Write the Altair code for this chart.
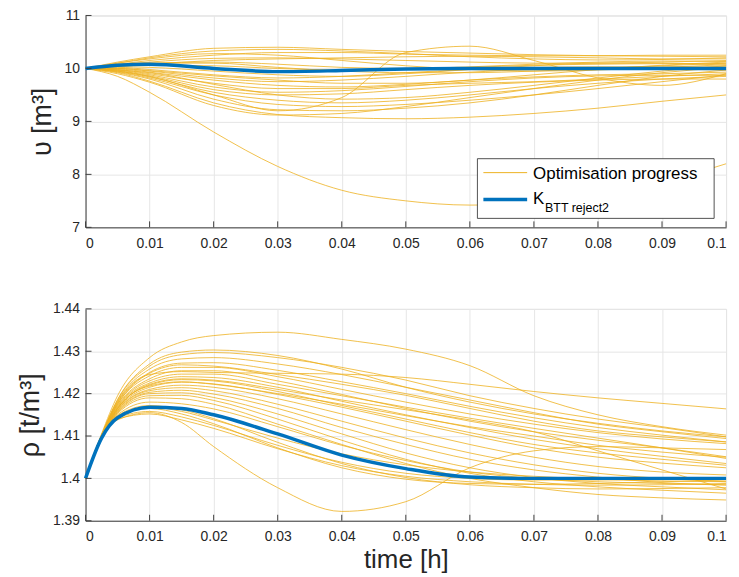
import altair as alt
import pandas as pd

# ---------------- data ----------------
T_V = [0, 0.005, 0.01, 0.02, 0.03, 0.04, 0.05, 0.06, 0.07, 0.08, 0.09, 0.1]
V_BEST = [10.0, 10.06, 10.08, 10.0, 9.94, 9.96, 9.99, 10.0, 10.0, 10.0, 10.0, 10.0]
v_run01 = [10, 10.12, 10.22, 10.38, 10.40, 10.36, 10.32, 10.29, 10.26, 10.24, 10.23, 10.22]
v_run02 = [10, 10.10, 10.20, 10.33, 10.36, 10.33, 10.28, 10.22, 10.18, 10.16, 10.17, 10.20]
v_run03 = [10, 10.08, 10.15, 10.25, 10.30, 10.30, 10.27, 10.25, 10.24, 10.24, 10.25, 10.25]
v_run04 = [10, 10.07, 10.12, 10.19, 10.20, 10.18, 10.15, 10.12, 10.10, 10.10, 10.12, 10.15]
v_run05 = [10, 10.05, 10.10, 10.12, 10.08, 10.02, 10.00, 10.03, 10.08, 10.12, 10.14, 10.13]
v_run06 = [10, 10.04, 10.06, 10.05, 10.00, 9.97, 9.98, 10.02, 10.06, 10.08, 10.09, 10.09]
v_run07 = [10, 10.03, 10.02, 9.95, 9.88, 9.85, 9.90, 9.98, 10.05, 10.10, 10.10, 10.06]
v_run08 = [10, 10.02, 9.98, 9.88, 9.82, 9.85, 9.92, 9.98, 10.02, 10.03, 10.03, 10.03]
v_run09 = [10, 10.00, 9.95, 9.82, 9.75, 9.78, 9.85, 9.93, 9.98, 10.00, 9.99, 9.97]
v_run10 = [10, 9.99, 9.93, 9.78, 9.68, 9.65, 9.70, 9.78, 9.84, 9.88, 9.90, 9.93]
v_run11 = [10, 9.98, 9.90, 9.72, 9.62, 9.62, 9.68, 9.72, 9.75, 9.80, 9.85, 9.90]
v_run12 = [10, 9.97, 9.88, 9.65, 9.55, 9.58, 9.66, 9.75, 9.82, 9.86, 9.87, 9.87]
v_run13 = [10, 9.96, 9.86, 9.60, 9.50, 9.52, 9.60, 9.68, 9.74, 9.78, 9.80, 9.80]
v_run14 = [10, 9.95, 9.84, 9.55, 9.40, 9.35, 9.40, 9.50, 9.62, 9.72, 9.80, 9.85]
v_run15 = [10, 9.94, 9.82, 9.50, 9.32, 9.28, 9.32, 9.40, 9.50, 9.62, 9.75, 9.88]
v_run16 = [10, 9.93, 9.80, 9.42, 9.22, 9.20, 9.25, 9.35, 9.50, 9.68, 9.85, 9.97]
v_run17 = [10, 9.92, 9.76, 9.35, 9.13, 9.07, 9.05, 9.08, 9.15, 9.25, 9.38, 9.50]
v_run18 = [10, 9.90, 9.74, 9.30, 9.12, 9.15, 9.28, 9.45, 9.62, 9.78, 9.92, 10.02]
v_run19 = [10, 9.95, 9.85, 9.50, 9.20, 9.45, 10.30, 10.42, 10.15, 9.82, 9.68, 9.90]
v_run20 = [10, 9.85, 9.55, 8.80, 8.15, 7.70, 7.50, 7.42, 7.45, 7.60, 7.85, 8.20]
v_run21 = [10, 10.10, 10.18, 10.28, 10.25, 10.15, 10.05, 9.98, 9.95, 9.97, 10.02, 10.07]
v_run22 = [10, 10.06, 10.10, 10.10, 10.02, 9.95, 9.92, 9.92, 9.95, 10.00, 10.05, 10.10]
v_run23 = [10, 10.00, 9.96, 9.86, 9.78, 9.72, 9.72, 9.78, 9.88, 9.98, 10.06, 10.12]
v_run24 = [10, 9.97, 9.92, 9.70, 9.50, 9.42, 9.45, 9.55, 9.68, 9.82, 9.95, 10.05]
v_run25 = [10, 10.04, 10.08, 10.15, 10.18, 10.20, 10.22, 10.23, 10.22, 10.20, 10.18, 10.18]

T_R = [0, 0.0025, 0.005, 0.01, 0.015, 0.02, 0.03, 0.04, 0.05, 0.06, 0.07, 0.08, 0.09, 0.1]
R_BEST = [1.4, 1.4095, 1.4143, 1.4168, 1.4165, 1.415, 1.4105, 1.4055, 1.4023, 1.4003, 1.4, 1.4, 1.4, 1.4]
r_run01 = [1.4, 1.4105, 1.4195, 1.4285, 1.4322, 1.4337, 1.4345, 1.4328, 1.4305, 1.4266, 1.4195, 1.415, 1.4122, 1.4102]
r_run02 = [1.4, 1.4102, 1.418, 1.4245, 1.4252, 1.425, 1.4248, 1.4246, 1.4238, 1.4222, 1.4205, 1.419, 1.4177, 1.4164]
r_run03 = [1.4, 1.4102, 1.4185, 1.4265, 1.4292, 1.4297, 1.4285, 1.4262, 1.4232, 1.4195, 1.4165, 1.414, 1.412, 1.4098]
r_run04 = [1.4, 1.4102, 1.4182, 1.4258, 1.4282, 1.4285, 1.427, 1.4245, 1.4215, 1.4185, 1.4155, 1.4128, 1.411, 1.4094]
r_run05 = [1.4, 1.4101, 1.4178, 1.425, 1.4272, 1.4273, 1.4255, 1.4228, 1.42, 1.417, 1.4143, 1.412, 1.4102, 1.4086]
r_run06 = [1.4, 1.4101, 1.4175, 1.4242, 1.4262, 1.4262, 1.424, 1.421, 1.418, 1.4152, 1.4128, 1.4108, 1.4093, 1.4082]
r_run07 = [1.4, 1.4101, 1.4172, 1.4235, 1.4254, 1.4254, 1.423, 1.4198, 1.4165, 1.4135, 1.411, 1.409, 1.4072, 1.4051]
r_run08 = [1.4, 1.4101, 1.417, 1.423, 1.4246, 1.4246, 1.4222, 1.4195, 1.4168, 1.4142, 1.4118, 1.4095, 1.4072, 1.4047]
r_run09 = [1.4, 1.41, 1.4168, 1.4225, 1.424, 1.4238, 1.4215, 1.4182, 1.415, 1.412, 1.4092, 1.407, 1.4052, 1.4035]
r_run10 = [1.4, 1.41, 1.4165, 1.422, 1.4233, 1.423, 1.4205, 1.4172, 1.414, 1.4108, 1.408, 1.406, 1.4045, 1.4031]
r_run11 = [1.4, 1.41, 1.4163, 1.4215, 1.4227, 1.4223, 1.4198, 1.4168, 1.4135, 1.4102, 1.4072, 1.405, 1.4036, 1.4025]
r_run12 = [1.4, 1.41, 1.4161, 1.421, 1.422, 1.4215, 1.4188, 1.4152, 1.4115, 1.408, 1.405, 1.4028, 1.4015, 1.4008]
r_run13 = [1.4, 1.41, 1.416, 1.4207, 1.4214, 1.4207, 1.4175, 1.4135, 1.4095, 1.406, 1.4032, 1.4012, 1.4, 1.3992]
r_run14 = [1.4, 1.41, 1.4158, 1.4203, 1.4208, 1.4199, 1.4165, 1.412, 1.408, 1.4045, 1.402, 1.4003, 1.399, 1.3984]
r_run15 = [1.4, 1.41, 1.4156, 1.42, 1.4202, 1.4191, 1.4152, 1.4105, 1.406, 1.4025, 1.4002, 1.3988, 1.398, 1.3973]
r_run16 = [1.4, 1.41, 1.4155, 1.4195, 1.4196, 1.4184, 1.414, 1.409, 1.4045, 1.4012, 1.3992, 1.398, 1.3972, 1.3965]
r_run17 = [1.4, 1.41, 1.4153, 1.419, 1.4188, 1.4175, 1.4128, 1.408, 1.4035, 1.4, 1.3978, 1.3962, 1.3954, 1.3949]
r_run18 = [1.4, 1.4099, 1.415, 1.418, 1.4176, 1.4164, 1.4122, 1.4078, 1.4042, 1.4015, 1.4, 1.3992, 1.3988, 1.3985]
r_run19 = [1.4, 1.4099, 1.4148, 1.4172, 1.4162, 1.4141, 1.4085, 1.4035, 1.4002, 1.3985, 1.3978, 1.3975, 1.3976, 1.3978]
r_run20 = [1.4, 1.4099, 1.4145, 1.4165, 1.4152, 1.4129, 1.4072, 1.4025, 1.3998, 1.3988, 1.3986, 1.3988, 1.3992, 1.3996]
r_run21 = [1.4, 1.4098, 1.4142, 1.4158, 1.4145, 1.4125, 1.4078, 1.4038, 1.4012, 1.4, 1.3996, 1.3996, 1.3998, 1.4]
r_run22 = [1.4, 1.4098, 1.414, 1.4152, 1.4138, 1.4118, 1.407, 1.403, 1.4005, 1.3992, 1.3986, 1.3984, 1.3985, 1.3988]
r_run23 = [1.4, 1.4099, 1.4138, 1.4155, 1.4132, 1.4075, 1.3978, 1.3922, 1.3945, 1.4025, 1.4065, 1.4075, 1.4072, 1.4068]
r_run24 = [1.4, 1.41, 1.4165, 1.4222, 1.4235, 1.4232, 1.421, 1.4185, 1.4162, 1.4138, 1.411, 1.4065, 1.402, 1.3975]
r_run25 = [1.4, 1.4101, 1.4175, 1.4248, 1.4268, 1.4265, 1.4245, 1.4222, 1.4196, 1.4165, 1.4135, 1.4112, 1.4098, 1.4086]
r_run26 = [1.4, 1.4102, 1.4186, 1.427, 1.4298, 1.4303, 1.429, 1.4258, 1.4215, 1.418, 1.4152, 1.413, 1.4112, 1.4098]
r_run27 = [1.4, 1.41, 1.4166, 1.4218, 1.4228, 1.4222, 1.42, 1.4175, 1.4148, 1.4122, 1.41, 1.4078, 1.4062, 1.405]
r_run28 = [1.4, 1.4099, 1.4147, 1.4168, 1.4158, 1.4138, 1.4095, 1.4058, 1.4032, 1.4015, 1.4005, 1.3998, 1.3994, 1.3992]

X_TICKS = [0, 0.01, 0.02, 0.03, 0.04, 0.05, 0.06, 0.07, 0.08, 0.09, 0.1]
V_TICKS = [7, 8, 9, 10, 11]
R_TICKS = [1.39, 1.4, 1.41, 1.42, 1.43, 1.44]

LEGEND_LABELS = ["Optimisation progress", "K", "BTT reject2"]

V_RUNS = [v_run01, v_run02, v_run03, v_run04, v_run05, v_run06, v_run07, v_run08, v_run09,
          v_run10, v_run11, v_run12, v_run13, v_run14, v_run15, v_run16, v_run17, v_run18,
          v_run19, v_run20, v_run21, v_run22, v_run23, v_run24, v_run25]
R_RUNS = [r_run01, r_run02, r_run03, r_run04, r_run05, r_run06, r_run07, r_run08, r_run09,
          r_run10, r_run11, r_run12, r_run13, r_run14, r_run15, r_run16, r_run17, r_run18,
          r_run19, r_run20, r_run21, r_run22, r_run23, r_run24, r_run25, r_run26, r_run27, r_run28]

# ---------------- style ----------------
ORANGE = "#EDB120"
BLUE = "#0072BD"
FONT = "Liberation Sans"
W, H = 644, 213
DARK = "#262626"


def long_df(t, runs):
    rows = []
    for i, r in enumerate(runs):
        for tt, vv in zip(t, r):
            rows.append({"t": tt, "y": vv, "run": i})
    return pd.DataFrame(rows)


one = pd.DataFrame({"a": [0]})


def panel(t, runs, best, yticks, ydom, ytitle, xtitle, legend=False):
    xax = dict(values=X_TICKS, format="~g", grid=True, tickSize=0, labelPadding=9,
               labelFontSize=14, labelColor=DARK, labelFont=FONT, domainColor="#404040",
               gridColor="#e6e6e6", titleFontSize=26, titleFont=FONT, titleColor=DARK,
               titleFontWeight="normal", titlePadding=3)
    if xtitle:
        xax["title"] = xtitle
    else:
        xax["title"] = None
    yax = dict(values=yticks, format="~g", grid=True, tickSize=0, labelPadding=6,
               labelFontSize=14, labelColor=DARK, labelFont=FONT, domainColor="#404040",
               gridColor="#e6e6e6", title=ytitle, titleFontSize=27, titleFont=FONT,
               titleColor=DARK, titleFontWeight="normal", titlePadding=8)
    X = alt.X("t:Q", scale=alt.Scale(domain=[0, 0.1], nice=False), axis=alt.Axis(**xax))
    Y = alt.Y("y:Q", scale=alt.Scale(domain=ydom, nice=False, zero=False), axis=alt.Axis(**yax))

    runs_df = long_df(t, runs)
    best_df = pd.DataFrame({"t": t, "y": best})
    orange = alt.Chart(runs_df).mark_line(color=ORANGE, strokeWidth=1, opacity=0.8,
                                          interpolate="monotone").encode(x=X, y=Y, detail="run:N")
    blue = alt.Chart(best_df).mark_line(color=BLUE, strokeWidth=3.5,
                                        interpolate="monotone").encode(x=X, y=Y)
    xt = alt.Chart(pd.DataFrame({"t": X_TICKS})).mark_rule(color="#404040", strokeWidth=1).encode(
        x=X, y=alt.value(H), y2=alt.value(H - 6))
    yt = alt.Chart(pd.DataFrame({"y": yticks})).mark_rule(color="#404040", strokeWidth=1).encode(
        y=Y, x=alt.value(0), x2=alt.value(6))
    layers = [orange, blue, xt, yt]
    if legend:
        box = alt.Chart(one).mark_rect(fill="white", stroke=DARK, strokeWidth=0.8).encode(
            x=alt.value(394), x2=alt.value(632), y=alt.value(144), y2=alt.value(204))
        l1 = alt.Chart(one).mark_rule(color=ORANGE, strokeWidth=1).encode(
            x=alt.value(400), x2=alt.value(444), y=alt.value(158))
        l2 = alt.Chart(one).mark_rule(color=BLUE, strokeWidth=3.5).encode(
            x=alt.value(400), x2=alt.value(444), y=alt.value(185))
        t1 = alt.Chart(one).mark_text(align="left", baseline="middle", fontSize=17, font=FONT,
                                      color="black").encode(
            x=alt.value(450), y=alt.value(159), text=alt.value(LEGEND_LABELS[0]))
        t2 = alt.Chart(one).mark_text(align="left", baseline="middle", fontSize=17, font=FONT,
                                      color="black").encode(
            x=alt.value(450), y=alt.value(185), text=alt.value(LEGEND_LABELS[1]))
        t3 = alt.Chart(one).mark_text(align="left", baseline="middle", fontSize=12.5, font=FONT,
                                      color="black").encode(
            x=alt.value(462), y=alt.value(194), text=alt.value(LEGEND_LABELS[2]))
        layers += [box, l1, l2, t1, t2, t3]
    return alt.layer(*layers).properties(width=W, height=H)


top = panel(T_V, V_RUNS, V_BEST, V_TICKS, [7, 11], "υ [m³]", None, legend=True)
bottom = panel(T_R, R_RUNS, R_BEST, R_TICKS, [1.39, 1.44], "ρ [t/m³]", "time [h]")

chart = alt.vconcat(top, bottom, spacing=50).properties(
    padding={"left": 16, "top": 6, "right": 5, "bottom": 2}
).configure_view(stroke="transparent").configure(background="white")

chart.save("out.html", embed_options={"renderer": "svg", "actions": False})
